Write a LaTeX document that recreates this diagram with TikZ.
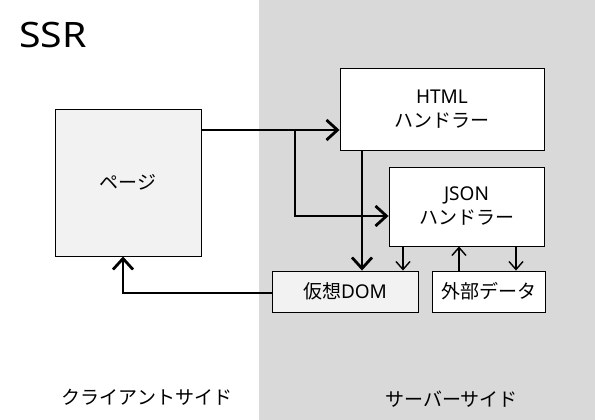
\documentclass[tikz,border=0pt]{standalone}
\usepackage{fontspec}
\setmainfont{Noto Sans}
\newfontfamily\jp{Noto Sans CJK JP}
\newfontfamily\titlefont[FakeStretch=1.12]{Noto Sans}
\usetikzlibrary{arrows.meta}
\definecolor{srvgray}{HTML}{D9D9D9}
\definecolor{boxgray}{HTML}{F2F2F2}
\tikzset{
  box/.style={draw=black, line width=0.9pt, inner sep=0pt, align=center,
    font=\fontsize{19}{24}\selectfont},
  thickarrow/.style={line width=2.8pt, -{Straight Barb[length=11pt,width=20pt]}},
  thinarrow/.style={line width=1.4pt, -{Straight Barb[length=8pt,width=14pt]}},
  sidelabel/.style={font=\jp\fontsize{19}{24}\selectfont, inner sep=0pt},
}
\begin{document}
\begin{tikzpicture}[x=1pt,y=-1pt]
\useasboundingbox (0,0) rectangle (595,420);
\fill[white] (0,0) rectangle (595,420);
\fill[srvgray] (259,0) rectangle (595,420);

\node[anchor=base west, inner sep=0pt, font=\titlefont\fontsize{35}{40}\selectfont] (title) at (19,48) {SSR};

\node[box, fill=boxgray, minimum width=146pt, minimum height=147pt] (page) at (128,182.5) {{\jp ページ}};
\node[box, fill=white, minimum width=204pt, minimum height=82pt] (html) at (442,109) {HTML\\{\jp ハンドラー}};
\node[box, fill=white, minimum width=155pt, minimum height=79pt] (json) at (466.5,206.5) {JSON\\{\jp ハンドラー}};
\node[box, fill=boxgray, minimum width=146pt, minimum height=41pt] (dom) at (345,291.5) {{\jp 仮想}DOM};
\node[box, fill=white, minimum width=113pt, minimum height=41pt] (ext) at (488.5,291.5) {{\jp 外部データ}};

\node[sidelabel] (client) at (147,397) {クライアントサイド};
\node[sidelabel] (server) at (451.5,399) {サーバーサイド};

\coordinate (a1) at (201,130);
\coordinate (br) at (295,130);
\draw[thickarrow] (a1) -- (a1 -| html.west);
\draw[thickarrow] (br) |- ([yshift=-9.5pt]json.west);
\draw[thickarrow] ([xshift=-80pt]html.south) -- ([xshift=-80pt]html.south |- dom.north);
\draw[thinarrow] ([xshift=-63.5pt]json.south) -- ([xshift=-63.5pt]json.south |- dom.north);
\draw[thinarrow] ([xshift=-29.5pt]ext.north) -- ([xshift=-29.5pt]ext.north |- json.south);
\draw[thinarrow] ([xshift=27.5pt]ext.north |- json.south) -- ([xshift=27.5pt]ext.north);
\draw[thickarrow] ([yshift=-1.5pt]dom.west) -| ([xshift=-5pt]page.south);
\end{tikzpicture}
\end{document}
